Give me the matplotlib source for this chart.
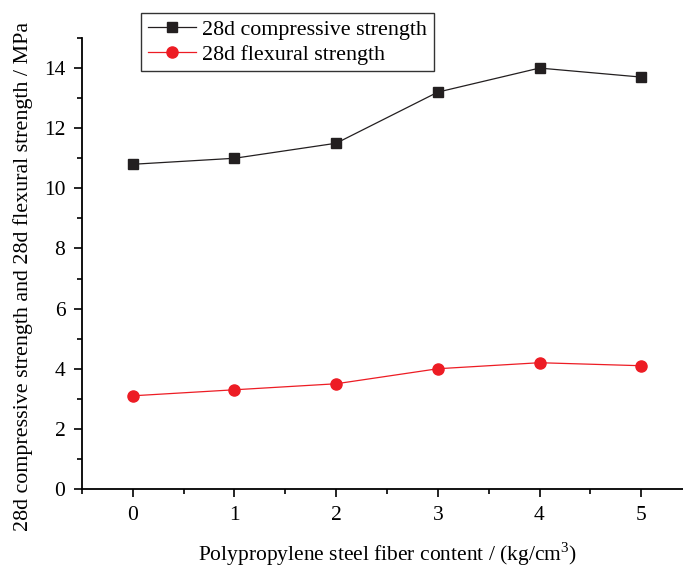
import matplotlib
matplotlib.use("Agg")
import matplotlib.pyplot as plt
from matplotlib.ticker import MultipleLocator

plt.rcParams["font.family"] = ["Liberation Serif", "DejaVu Serif"]
plt.rcParams["mathtext.fontset"] = "custom"
plt.rcParams["mathtext.rm"] = "Liberation Serif"

contenido = [0, 1, 2, 3, 4, 5]
compresion = [10.8, 11.0, 11.5, 13.2, 14.0, 13.7]
flexion = [3.1, 3.3, 3.5, 4.0, 4.2, 4.1]

fig = plt.figure(figsize=(6.83, 5.67), dpi=100)
ax = fig.add_axes([82 / 683, (567 - 489) / 567, (692 - 82) / 683, (489 - 38) / 567])

ax.plot(contenido, compresion, color="#231f20", marker="s", markersize=7.5, linewidth=0.9,
        label="28d compressive strength")
ax.plot(contenido, flexion, color="#ed1c24", marker="o", markersize=8, linewidth=0.9,
        label="28d flexural strength")

ax.set_xlim(-0.5, 5.5)
ax.set_ylim(0, 15)
ax.xaxis.set_major_locator(MultipleLocator(1))
ax.xaxis.set_minor_locator(MultipleLocator(0.5))
ax.yaxis.set_major_locator(MultipleLocator(2))
ax.yaxis.set_minor_locator(MultipleLocator(1))
ax.tick_params(which="both", direction="out", width=1.2, labelsize=15.5)
ax.tick_params(which="major", length=6, pad=6)
ax.tick_params(which="minor", length=3.5)
ax.spines["top"].set_visible(False)
ax.spines["right"].set_visible(False)
ax.spines["left"].set_linewidth(1.3)
ax.spines["bottom"].set_linewidth(1.3)

ax.set_xlabel("Polypropylene steel fiber content / (kg/cm$^3$)", fontsize=15.5, labelpad=11)
ax.set_ylabel("28d compressive strength and 28d flexural strength / MPa", fontsize=15.8)
# etiqueta y un poco desplazada hacia abajo, como en el original
ax.yaxis.set_label_coords(-0.08, 0.472)

leg = ax.legend(loc="upper left", bbox_to_anchor=(141 / 683, 1 - 13 / 567), bbox_transform=fig.transFigure,
                fontsize=15.8, frameon=True, fancybox=False, borderpad=0.3, handlelength=2.2,
                labelspacing=0.2, handletextpad=0.3, borderaxespad=0)
leg.get_frame().set_edgecolor("black")
leg.get_frame().set_linewidth(1.0)

fig.savefig("out.png", dpi=100)
